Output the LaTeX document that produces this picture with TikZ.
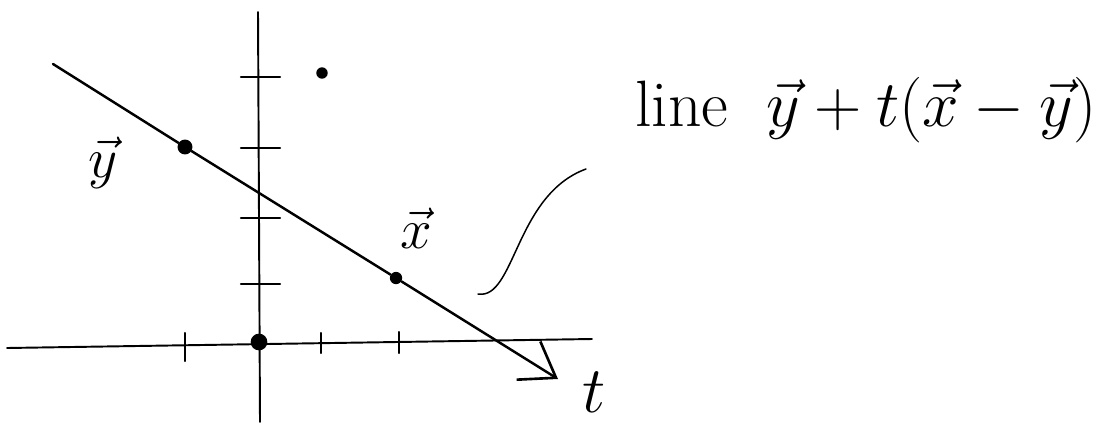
\documentclass[tikz,border=0pt]{standalone}
\usetikzlibrary{arrows.meta}
\tikzset{
  dot/.style={circle,fill=black,inner sep=0pt,minimum size=#1},
  dot/.default=9pt,
  tick/.style={line width=1.2pt},
  axis/.style={line width=1.1pt},
  big/.style={font=\Huge,scale=#1},
  big/.default=1.3
}
\begin{document}
\begin{tikzpicture}[x=0.02cm,y=-0.02cm,line cap=round]
 \useasboundingbox (0,0) rectangle (1108,423);
 % axes
 \draw[axis] (7,348)--(592,339);
 \draw[axis] (258,12)--(260,422);
 \foreach \xx/\ya/\yb in {185/333/361,321/333/353,399/332/353}
  \draw[tick] (\xx,\ya)--(\xx,\yb);
 \foreach \yy in {77,148,218,284} \draw[tick] (241,\yy)--(280,\yy);
 % points
 \node[dot=9.5pt] (O) at (259,342) {};
 \node[dot=8.5pt] (Y) at (185,147) {};
 \node[dot=7pt] (X) at (396,278) {};
 \node[dot=6.5pt] (P) at (322,73) {};
 \coordinate (start) at (53,64);
 \coordinate (end) at (558,379);
 \draw[line width=1.4pt,-{Straight Barb[length=0.65cm,width=0.9cm,line width=1.5pt]}]
  (start)--(Y)--(X)--(end);
 % labels
 \node[big] (ylab) at (103,163) {$\vec{y}$};
 \node[big] (xlab) at (416,228) {$\vec{x}$};
 \node[big=1.5] (tlab) at (594,392) {$t$};
 \node[big=1.5] (line) at (866,110) {line\; $\vec{y}+t(\vec{x}-\vec{y})$};
 \coordinate (c0) at (478,294);
 \coordinate (c1) at (586,169);
 \draw[line width=0.85pt] (c0) .. controls (515,300) and (515,195) .. (c1);
\end{tikzpicture}
\end{document}
